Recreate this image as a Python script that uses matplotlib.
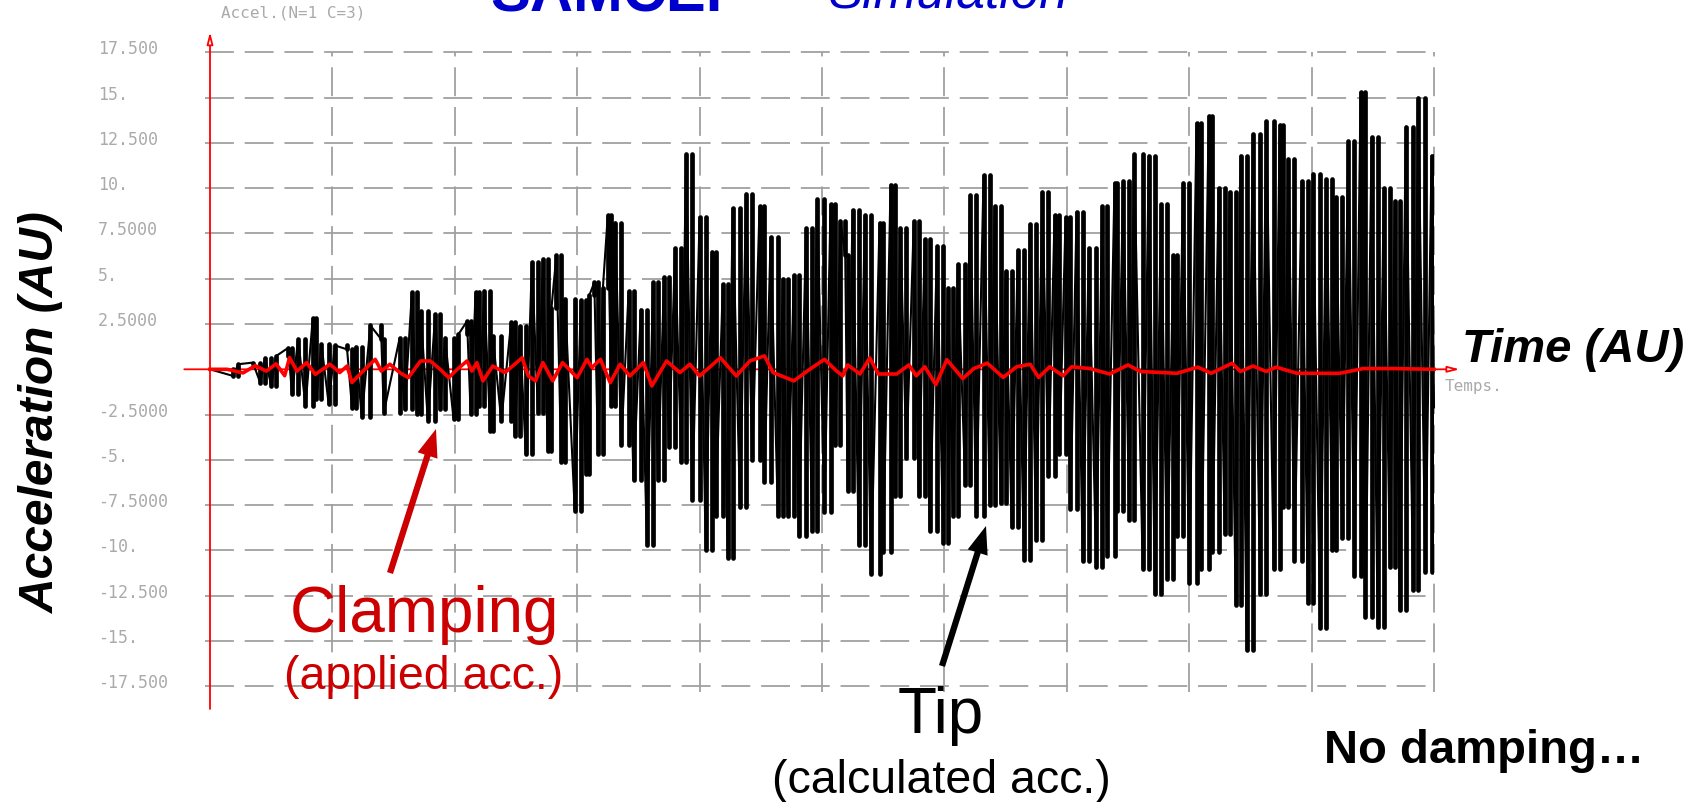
import matplotlib
matplotlib.use("Agg")
import matplotlib.pyplot as plt
import matplotlib.transforms as mtransforms
from matplotlib.patches import FancyArrowPatch, ArrowStyle

# ---------------- data ----------------
# time axis in arbitrary units (one grid column = 1 AU)
tip_up_t = [0.23, 0.35, 0.45, 0.54, 0.64, 0.72, 0.84, 0.91, 1.02, 1.12, 1.19, 1.31, 1.40,
            1.55, 1.65, 1.72, 1.84, 1.92, 2.03, 2.10, 2.17, 2.24, 2.31, 2.46, 2.53, 2.63,
            2.72, 2.79, 2.83, 2.90, 3.03, 3.10, 3.14, 3.21, 3.25, 3.31, 3.42, 3.52, 3.62,
            3.71, 3.80, 3.89, 4.00, 4.10, 4.19, 4.27, 4.38, 4.49, 4.58, 4.68, 4.77, 4.87,
            4.96, 5.07, 5.15, 5.19, 5.25, 5.35, 5.47, 5.56, 5.64, 5.75, 5.84, 5.94, 6.03,
            6.11, 6.21, 6.32, 6.41, 6.50, 6.60, 6.70, 6.80, 6.90, 6.99, 7.08, 7.18, 7.29,
            7.39, 7.46, 7.55, 7.67, 7.77, 7.87, 7.95, 8.06, 8.16, 8.24, 8.33, 8.42, 8.52,
            8.63, 8.74, 8.81, 8.92, 9.01, 9.12, 9.20, 9.30, 9.40, 9.49, 9.59, 9.68, 9.77,
            9.87, 9.98]
tip_up_v = [0.28, 0.37, 0.64, 0.73, 1.19, 1.69, 2.84, 1.38, 1.32, 1.10, 1.25, 2.42, 1.65,
            1.74, 4.26, 3.21, 3.03, 1.74, 1.93, 2.66, 4.26, 4.35, 1.83, 2.60, 2.39, 5.9,
            6.1, 3.4, 6.3, 3.9, 3.8, 4.1, 4.8, 4.5, 8.5, 8.1, 4.3, 3.3, 4.8,
            5.1, 6.7, 11.9, 8.4, 6.5, 4.7, 8.9, 9.7, 9.0, 7.3, 5.0, 5.2, 7.8,
            9.4, 9.1, 8.2, 6.3, 8.8, 8.5, 8.1, 10.2, 7.8, 8.2, 7.2, 6.8, 4.5,
            5.8, 9.6, 10.7, 9.0, 5.4, 6.6, 8.0, 9.8, 8.5, 8.4, 8.7, 6.7, 9.0,
            10.3, 10.4, 11.9, 11.8, 9.1, 6.3, 10.3, 13.6, 14.0, 10.0, 9.8, 11.8, 13.0,
            13.7, 13.5, 11.6, 10.4, 10.8, 10.5, 9.5, 12.6, 15.3, 12.8, 10.0, 9.3, 13.4,
            15.0, 11.8]

tip_dn_t = [0.19, 0.41, 0.50, 0.67, 0.78, 0.87, 0.97, 1.16, 1.24, 1.42, 1.59, 1.69,
            1.78, 1.88, 1.99, 2.13, 2.20, 2.29, 2.38, 2.49, 2.58, 2.68, 2.76, 2.87, 2.98,
            3.07, 3.17, 3.28, 3.36, 3.46, 3.57, 3.66, 3.75, 3.85, 3.94, 4.05, 4.13, 4.23,
            4.33, 4.43, 4.53, 4.64, 4.72, 4.81, 4.92, 5.02, 5.11, 5.21, 5.30, 5.40, 5.50,
            5.60, 5.69, 5.79, 5.88, 5.99, 6.07, 6.17, 6.26, 6.37, 6.46, 6.55, 6.65, 6.75,
            6.85, 6.94, 7.03, 7.13, 7.24, 7.33, 7.41, 7.51, 7.62, 7.72, 7.82, 7.90, 8.00,
            8.10, 8.19, 8.29, 8.38, 8.47, 8.58, 8.69, 8.77, 8.86, 8.97, 9.07, 9.17, 9.25,
            9.35, 9.44, 9.54, 9.64, 9.72, 9.83, 9.93, 10.00]
tip_dn_v = [-0.37, -0.73, -0.92, -1.38, -2.02, -1.65, -1.93, -2.11, -2.66, -2.39, -2.2, -2.48,
            -2.84, -2.2, -2.75, -2.48, -2.02, -3.39, -2.84, -3.67, -4.7, -2.4, -4.5, -5.1, -7.8,
            -5.8, -4.7, -2.0, -4.2, -6.1, -9.7, -6.1, -4.3, -5.1, -7.2, -10.0, -8.1, -10.4,
            -7.6, -5.0, -6.2, -8.1, -8.1, -9.2, -8.9, -7.9, -4.2, -6.7, -9.7, -11.3, -10.1,
            -7.0, -4.9, -7.0, -8.9, -9.6, -8.1, -6.4, -8.1, -7.5, -7.4, -8.7, -10.5, -9.4,
            -5.9, -4.7, -7.7, -10.6, -10.9, -10.3, -7.8, -8.3, -11.0, -12.4, -11.6, -9.2, -11.8,
            -11.0, -10.1, -9.1, -13.0, -15.5, -12.4, -11.0, -7.6, -10.6, -12.9, -14.3, -10.0, -9.3,
            -11.4, -13.7, -14.2, -10.9, -13.3, -12.2, -11.2, -2.1]

clamp_t = [0.00, 0.14, 0.27, 0.37, 0.46, 0.54, 0.61, 0.65, 0.71, 0.79, 0.86, 0.98, 1.06,
           1.12, 1.16, 1.25, 1.35, 1.40, 1.47, 1.55, 1.62, 1.72, 1.80, 1.88, 1.95, 2.02,
           2.10, 2.14, 2.18, 2.23, 2.31, 2.41, 2.49, 2.55, 2.60, 2.66, 2.72, 2.80, 2.88,
           3.00, 3.08, 3.12, 3.19, 3.27, 3.35, 3.43, 3.54, 3.61, 3.73, 3.84, 3.92, 4.00,
           4.17, 4.30, 4.41, 4.53, 4.60, 4.77, 4.90, 5.02, 5.12, 5.17, 5.21, 5.31, 5.39,
           5.46, 5.61, 5.71, 5.77, 5.84, 5.93, 6.02, 6.15, 6.24, 6.35, 6.48, 6.59, 6.70,
           6.77, 6.86, 6.97, 7.04, 7.19, 7.35, 7.50, 7.60, 7.90, 8.07, 8.18, 8.35, 8.42,
           8.52, 8.63, 8.71, 8.88, 9.04, 9.23, 9.42, 9.67, 10.00]
clamp_v = [0.0, 0.0, -0.2, 0.2, -0.1, 0.3, -0.35, 0.65, -0.1, 0.37, -0.28, 0.28, -0.18,
           0.18, -0.73, -0.1, 0.55, -0.1, 0.28, -0.18, -0.46, 0.46, 0.46, 0.0, -0.46, 0.0,
           0.46, -0.1, 0.37, -0.64, 0.18, -0.18, 0.28, 0.64, -0.37, -0.64, 0.37, -0.64, 0.37,
           -0.46, 0.55, 0.1, 0.55, -0.74, 0.28, -0.37, 0.37, -0.92, 0.46, -0.18, 0.28, -0.37,
           0.64, -0.37, 0.46, 0.74, -0.18, -0.64, 0.0, 0.55, -0.1, -0.36, 0.24, -0.26, 0.63,
           -0.26, -0.26, 0.24, -0.36, 0.14, -0.85, 0.53, -0.51, 0.04, 0.34, -0.45, 0.14, 0.28,
           -0.45, 0.14, -0.36, 0.14, 0.04, -0.26, 0.24, -0.12, -0.22, 0.12, -0.22, 0.33, -0.12,
           0.18, -0.12, 0.12, -0.22, -0.22, -0.22, 0.04, 0.04, 0.0]

y_tick_values = [17.5, 15, 12.5, 10, 7.5, 5, 2.5, -2.5, -5, -7.5, -10, -12.5, -15, -17.5]
y_tick_labels = ["17.500", "15.", "12.500", "10.", "7.5000", "5.", "2.5000",
                 "-2.5000", "-5.", "-7.5000", "-10.", "-12.500", "-15.", "-17.500"]
x_grid_values = [1, 2, 3, 4, 5, 6, 7, 8, 9, 10]

# ---------------- figure ----------------
W, H = 1700, 803
fig = plt.figure(figsize=(W / 100, H / 100), dpi=100)
fig.patch.set_facecolor("white")


def fx(x):
    return x / W


def fy(y):
    return 1 - y / H


ax = fig.add_axes([fx(210), fy(687.3), 1224 / W, 634 / H])
ax.set_xlim(0, 10)
ax.set_ylim(-17.5, 17.5)
ax.axis("off")

grid_col = "#a0a0a0"
dash = (0, (16, 6))
for v in y_tick_values:
    ax.plot([-0.04, 10], [v, v], color=grid_col, lw=1.3, linestyle=dash,
            clip_on=False, zorder=1)
for t in x_grid_values:
    ax.plot([t, t], [-17.8, 17.5], color=grid_col, lw=1.3, linestyle=dash,
            clip_on=False, zorder=1)

# tick labels (left aligned, grey, monospace)
lab_tr = mtransforms.blended_transform_factory(fig.transFigure, ax.transData)
lab_tr = mtransforms.offset_copy(lab_tr, fig=fig, x=0, y=4, units="dots")
for v, s in zip(y_tick_values, y_tick_labels):
    ax.text(fx(98), v, s, transform=lab_tr, ha="left", va="center",
            fontsize=12, family="DejaVu Sans Mono", color="#aaaaaa", clip_on=False)

# black (tip) signal: extrema in time order; the fast oscillation makes each
# swing between consecutive extrema appear as a vertical stroke
pts = sorted(list(zip(tip_up_t, tip_up_v)) + list(zip(tip_dn_t, tip_dn_v)))
tip_t = [0.0] + [p[0] for p in pts]
tip_v = [0.0] + [p[1] for p in pts]
ax.vlines(tip_t[1:], tip_v[:-1], tip_v[1:], color="black", lw=3.4, zorder=3,
          capstyle="round")
ax.plot(tip_t, tip_v, color="black", lw=1.5, zorder=3, clip_on=False)

# red (clamping) signal
ax.plot(clamp_t, clamp_v, color="#ff0000", lw=2.6, zorder=4, clip_on=False)

# red coordinate axes with hollow arrowheads
ax.annotate("", xy=(0, 18.62), xytext=(0, -18.75), annotation_clip=False,
            arrowprops=dict(arrowstyle="-|>,head_length=0.7,head_width=0.18",
                            ec="#ff0000", fc="white", lw=1.3, shrinkA=0, shrinkB=0),
            zorder=5)
ax.annotate("", xy=(10.21, 0), xytext=(-0.21, 0), annotation_clip=False,
            arrowprops=dict(arrowstyle="-|>,head_length=0.7,head_width=0.18",
                            ec="#ff0000", fc="white", lw=1.3, shrinkA=0, shrinkB=0),
            zorder=2)

# small grey plotter captions
fig.text(fx(221), fy(13), "Accel.(N=1 C=3)", fontsize=11.5, family="DejaVu Sans Mono",
         color="#aaaaaa", ha="left", va="center")
fig.text(fx(1445), fy(387), "Temps.", fontsize=11.5, family="DejaVu Sans Mono",
         color="#aaaaaa", ha="left", va="center")

# title (cut at the top edge, as in the reference)
fig.text(fx(490), fy(12), "SAMCEF", fontsize=43, fontweight="bold",
         family="Liberation Sans", color="#0000cc", ha="left", va="baseline")
fig.text(fx(829), fy(8), "Simulation", fontsize=37, style="italic",
         family="Liberation Sans", color="#0000cc", ha="left", va="baseline")

# axis titles
fig.text(fx(41), fy(412), "Acceleration (AU)", rotation=90, fontsize=34.5,
         fontweight="bold", style="italic", family="Liberation Sans",
         color="black", ha="center", va="center")
fig.text(fx(1462), fy(361.7), "Time (AU)", fontsize=34, fontweight="bold",
         style="italic", family="Liberation Sans", color="black",
         ha="left", va="baseline")

# annotations
red_ann = "#cc0000"
fig.text(fx(424), fy(632), "Clamping", fontsize=46, family="Liberation Sans",
         color=red_ann, ha="center", va="baseline")
fig.text(fx(424), fy(689), "(applied acc.)", fontsize=33.5, family="Liberation Sans",
         color=red_ann, ha="center", va="baseline")
fig.text(fx(941), fy(732.7), "Tip", fontsize=46, family="Liberation Sans",
         color="black", ha="center", va="baseline")
fig.text(fx(941.5), fy(793), "(calculated acc.)", fontsize=33.5,
         family="Liberation Sans", color="black", ha="center", va="baseline")
fig.text(fx(1324), fy(763), "No damping\u2026", fontsize=34, fontweight="bold",
         family="Liberation Sans", color="black", ha="left", va="baseline")

arrow_style = ArrowStyle.Simple(head_length=20, head_width=15, tail_width=4.5)
for (x0, y0, x1, y1, c) in [(390, 574, 436, 430, red_ann), (942, 667, 986, 527, "black")]:
    arr = FancyArrowPatch((fx(x0), fy(y0)), (fx(x1), fy(y1)), transform=fig.transFigure,
                          arrowstyle=arrow_style, mutation_scale=1, color=c, lw=0,
                          shrinkA=0, shrinkB=0, zorder=10)
    fig.add_artist(arr)

fig.savefig("out.png", dpi=100, facecolor="white")
